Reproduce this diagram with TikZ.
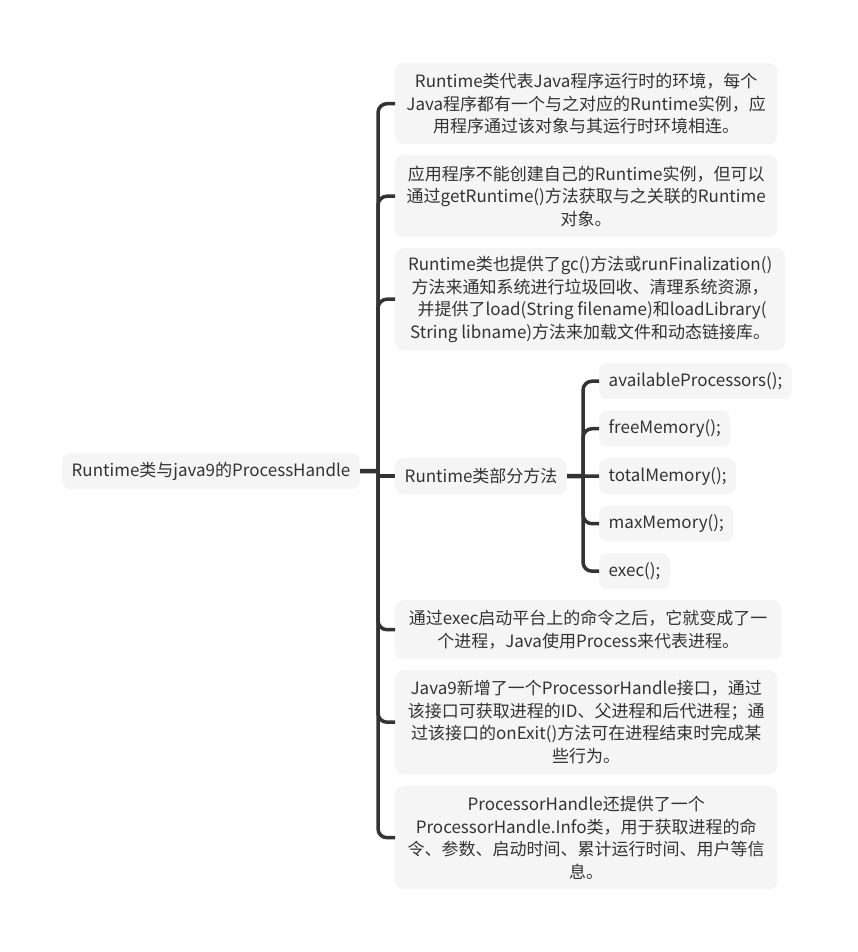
\documentclass[tikz,border=0pt]{standalone}
\usepackage{fontspec}
\setmainfont{Noto Sans CJK SC}
\definecolor{txt}{HTML}{333333}
\definecolor{boxfill}{HTML}{F5F5F5}
\definecolor{linec}{HTML}{333333}
\begin{document}
\begin{tikzpicture}[x=1pt,y=-1pt,
  box/.style={fill=boxfill, rounded corners=8pt, text=txt, font=\fontsize{17}{22.5}\selectfont, align=center, inner sep=0pt, anchor=north west},
  single/.style={box, inner xsep=9.5pt, minimum height=36pt},
  conn/.style={draw=linec, line width=3.5pt, rounded corners=9pt},
  stub/.style={draw=linec, line width=4.5pt}]
\useasboundingbox (0,0) rectangle (857,952);

\node[single] (root) at (62,453) {Runtime类与java9的ProcessHandle};

\node[box, minimum width=382pt, minimum height=81pt] (a) at (395,63)
  {Runtime类代表Java程序运行时的环境，每个\\Java程序都有一个与之对应的Runtime实例，应\\用程序通过该对象与其运行时环境相连。};
\node[box, minimum width=382pt, minimum height=82pt] (b) at (395,155)
  {应用程序不能创建自己的Runtime实例，但可以\\通过getRuntime()方法获取与之关联的Runtime\\对象。};
\node[box, minimum width=390pt, minimum height=102pt] (c) at (395,248)
  {Runtime类也提供了gc()方法或runFinalization()\\方法来通知系统进行垃圾回收、清理系统资源，\\\ 并提供了load(String filename)和loadLibrary(\\String libname)方法来加载文件和动态链接库。};
\node[single] (d) at (395,458) {Runtime类部分方法};
\node[single] (m1) at (599,363) {availableProcessors();};
\node[single] (m2) at (599,410.5) {freeMemory();};
\node[single] (m3) at (599,458) {totalMemory();};
\node[single] (m4) at (599,505.5) {maxMemory();};
\node[single] (m5) at (599,553) {exec();};
\node[box, minimum width=386pt, minimum height=59pt] (e) at (395,600)
  {通过exec启动平台上的命令之后，它就变成了一\\个进程，Java使用Process来代表进程。};
\node[box, minimum width=382pt, minimum height=104pt] (f) at (395,670)
  {Java9新增了一个ProcessorHandle接口，通过\\该接口可获取进程的ID、父进程和后代进程；通\\过该接口的onExit()方法可在进程结束时完成某\\些行为。};
\node[box, minimum width=382pt, minimum height=103pt] (g) at (395,786)
  {ProcessorHandle还提供了一个\\ProcessorHandle.Info类，用于获取进程的命\\令、参数、启动时间、累计运行时间、用户等信\\息。};

\coordinate (trunk) at (378,471);
\coordinate (sub) at (583,476);

\draw[stub] (root.east) -- (trunk);
\foreach \n in {a,b,c,e,f,g} \draw[conn] (trunk) |- (\n.west);
\draw[conn] (d.west -| trunk) -- (d.west);

\draw[stub] (d.east) -- (sub);
\foreach \n in {m1,m2,m4,m5} \draw[conn] (sub) |- (\n.west);
\draw[conn] (sub) -- (m3.west);
\end{tikzpicture}
\end{document}
